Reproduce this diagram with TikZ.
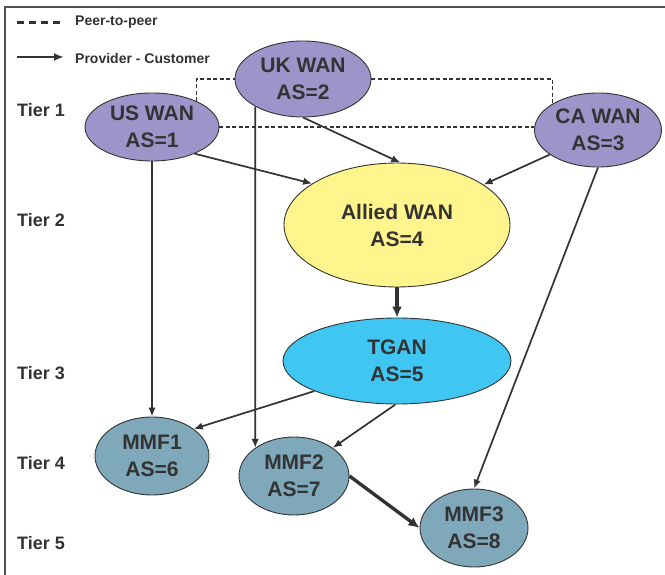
\documentclass[tikz,border=0pt]{standalone}
\usepackage{fontspec}
\setmainfont{Liberation Sans}
\usetikzlibrary{shapes.geometric,arrows.meta}
\definecolor{ink}{RGB}{51,51,51}
\definecolor{tierone}{RGB}{156,149,201}
\definecolor{allied}{RGB}{255,245,140}
\definecolor{tgan}{RGB}{64,198,242}
\definecolor{mmf}{RGB}{127,168,186}
\tikzset{
  asnode/.style={ellipse, draw=ink, line width=0.9pt, inner sep=0pt, align=center,
    text=ink, font=\bfseries\fontsize{21}{27}\selectfont},
  tierlabel/.style={anchor=west, text=ink, inner sep=0pt, font=\bfseries\fontsize{18}{20}\selectfont},
  legendtext/.style={anchor=west, text=ink, inner sep=0pt, font=\bfseries\fontsize{14}{16}\selectfont},
  pc/.style={draw=ink, line width=1.7pt, -{Latex[length=9pt,width=7.5pt]}},
  pcthick/.style={draw=ink, line width=3.4pt, -{Latex[length=11pt,width=10pt]}},
  peer/.style={draw=ink, line width=1.3pt, dash pattern=on 4pt off 2.5pt},
}
\begin{document}
\begin{tikzpicture}[x=1pt,y=-1pt]
\useasboundingbox (0,0) rectangle (665,575);
% frame
\draw[draw=ink!85, line width=1.3pt] (665,7) -- (5,7) -- (5,575);

% legend
\coordinate (l1a) at (17,23); \coordinate (l1b) at (62,23);
\coordinate (l2a) at (17,57); \coordinate (l2b) at (64,57);
\draw[draw=ink, line width=3pt, dash pattern=on 6.5pt off 5.5pt] (l1a) -- (l1b);
\draw[draw=ink, line width=2pt, -{Latex[length=10pt,width=8pt]}] (l2a) -- (l2b);
\node[legendtext] (lt1) at (75,22) {Peer-to-peer};
\node[legendtext] (lt2) at (75,58) {Provider - Customer};

% tier labels
\node[tierlabel] (t1) at (17,110) {Tier 1};
\node[tierlabel] (t2) at (17,220) {Tier 2};
\node[tierlabel] (t3) at (17,373) {Tier 3};
\node[tierlabel] (t4) at (17,463) {Tier 4};
\node[tierlabel] (t5) at (17,543) {Tier 5};

% nodes
\node[asnode, fill=tierone, minimum width=134pt, minimum height=68pt] (us) at (152,127) {US WAN\\AS=1};
\node[asnode, fill=tierone, minimum width=136pt, minimum height=76pt] (uk) at (303,79) {UK WAN\\AS=2};
\node[asnode, fill=tierone, minimum width=127pt, minimum height=74pt] (ca) at (598,130) {CA WAN\\AS=3};
\node[asnode, fill=allied, minimum width=226pt, minimum height=124pt] (allied) at (397,225) {Allied WAN\\AS=4};
\node[asnode, fill=tgan, minimum width=228pt, minimum height=86pt] (tgan) at (397,361) {TGAN\\AS=5};
\node[asnode, fill=mmf, minimum width=114pt, minimum height=78pt] (mmf1) at (152,456) {MMF1\\AS=6};
\node[asnode, fill=mmf, minimum width=110pt, minimum height=78pt] (mmf2) at (294,476) {MMF2\\AS=7};
\node[asnode, fill=mmf, minimum width=108pt, minimum height=78pt] (mmf3) at (474,528) {MMF3\\AS=8};

% peer-to-peer links
\draw[peer] (us.30) |- (uk.west);
\draw[peer] (uk.east) -| (ca.150);
\draw[peer] (us.east) -- (us.east -| ca.west);

% provider-customer links
\draw[pc] (us.-32) -- (allied.154);
\draw[pc] (uk.south) -- (allied.87);
\draw[pc] (ca.207) -- (allied.25);
\draw[pcthick] (allied.south) -- (tgan.north);
\draw[pc] (us.south) -- (mmf1.north);
\draw[pc] (uk.210) -- (mmf2.144);
\draw[pc] (tgan.200) -- (mmf1.33);
\draw[pc] (tgan.268) -- (mmf2.36);
\draw[pc] (ca.south) -- (mmf3.north);
\draw[pcthick] (mmf2.east) -- (mmf3.west);
\end{tikzpicture}
\end{document}
